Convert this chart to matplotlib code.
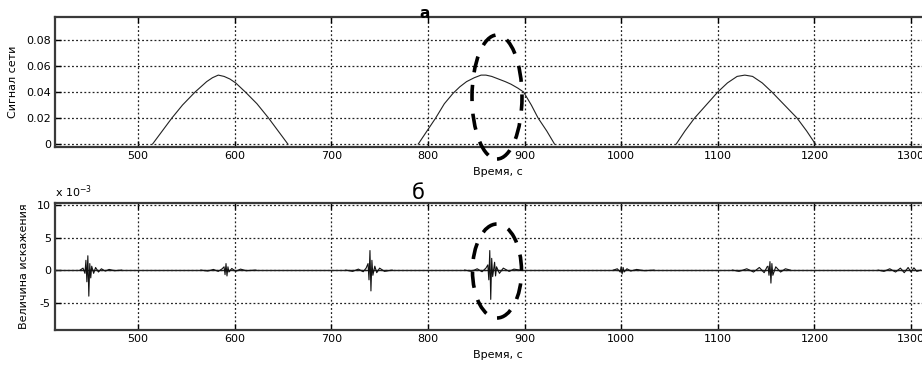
import matplotlib
matplotlib.use("Agg")
import matplotlib.pyplot as plt
from matplotlib.patches import Ellipse

plt.rcParams['font.family'] = ['Liberation Sans Narrow', 'DejaVu Sans']

# top panel: mains signal, three humps
hump1_t = [515, 525, 535, 546, 559, 571, 577, 583, 589, 595, 601, 611, 623, 635, 645, 655]
hump1_v = [0, 0.010, 0.020, 0.030, 0.040, 0.048, 0.051, 0.053, 0.052, 0.050, 0.047, 0.040, 0.031, 0.020, 0.010, 0]
hump2_t = [790, 799, 808, 817, 826, 833, 840, 848, 855, 860, 866, 873, 880, 886, 893, 899, 907, 914, 923, 931]
hump2_v = [0, 0.010, 0.020, 0.031, 0.039, 0.044, 0.048, 0.051, 0.053, 0.053, 0.052, 0.050, 0.048, 0.046, 0.043, 0.040, 0.030, 0.020, 0.010, 0]
hump3_t = [1057, 1066, 1076, 1088, 1100, 1110, 1120, 1128, 1136, 1146, 1156, 1169, 1182, 1192, 1201]
hump3_v = [0, 0.010, 0.020, 0.030, 0.040, 0.047, 0.052, 0.053, 0.052, 0.047, 0.040, 0.030, 0.020, 0.010, 0]

# bottom panel: distortion bursts, values in units of 1e-3
burst1_t = [440, 443, 445, 446, 447, 448, 449, 450, 451, 452, 454, 456, 459, 462, 466, 470, 476, 483]
burst1_v = [0, 0.3, -0.5, 1.5, -1.8, 2.2, -4.0, 1.0, -1.2, 0.6, -0.5, 0.4, -0.3, 0.2, -0.15, 0.1, -0.1, 0]
burst2_t = [565, 572, 578, 583, 587, 589, 590, 591, 592, 593, 594, 597, 601, 606, 612, 622]
burst2_v = [0, -0.15, 0.1, -0.2, 0.2, 0.5, -0.7, 1.0, -0.9, 0.5, -0.3, 0.25, -0.2, 0.15, -0.1, 0]
burst3_t = [715, 722, 728, 733, 736, 738, 739, 740, 741, 742, 743, 745, 747, 750, 755, 763]
burst3_v = [0, -0.2, 0.15, -0.25, 0.3, 1.0, -1.5, 3.0, -3.2, 1.5, -0.8, 0.6, -0.4, 0.3, -0.2, 0]
burst4_t = [838, 845, 851, 856, 860, 862, 863, 864, 865, 866, 867, 869, 870, 871, 874, 878, 884, 889, 895]
burst4_v = [0, -0.2, 0.2, -0.25, 0.3, 0.8, -1.5, 3.0, -4.5, 1.8, -1.0, 1.2, -0.9, 0.5, -0.5, 0.3, -0.2, 0.15, 0]
burst5_t = [992, 996, 999, 1000, 1001, 1002, 1003, 1006, 1010, 1016, 1024, 1034]
burst5_v = [0, 0.2, -0.3, 0.5, -0.6, 0.4, -0.3, 0.2, -0.15, 0.1, -0.1, 0]
burst6_t = [1115, 1122, 1130, 1137, 1143, 1148, 1151, 1152, 1153, 1154, 1155, 1156, 1157, 1160, 1165, 1170, 1175]
burst6_v = [0, -0.2, 0.2, -0.3, 0.4, -0.4, 0.5, 0.6, -0.8, 1.3, -2.0, 1.0, -0.8, 0.5, -0.3, 0.2, 0]
burst7_t = [1266, 1272, 1278, 1284, 1289, 1293, 1297, 1300, 1303, 1306, 1310]
burst7_v = [0, -0.2, 0.2, -0.3, 0.3, -0.4, 0.4, -0.3, 0.35, -0.2, 0]

x_ticks = [500, 600, 700, 800, 900, 1000, 1100, 1200, 1300]
top_yticks = [0, 0.02, 0.04, 0.06, 0.08]
top_ylabels = ['0', '0.02', '0.04', '0.06', '0.08']
bot_yticks = [-5, 0, 5, 10]
bot_ylabels = ['-5', '0', '5', '10']

W, H = 922, 372
fig = plt.figure(figsize=(W / 100, H / 100), dpi=100)


def px_axes(left, top, right, bottom):
    return fig.add_axes([left / W, 1 - bottom / H, (right - left) / W, (bottom - top) / H])


def style(ax):
    for s in ax.spines.values():
        s.set_linewidth(1.6)
        s.set_color('#3a3a3a')
    ax.tick_params(direction='in', length=4, width=1, labelsize=8, top=True, right=True, pad=3)
    ax.grid(True, color='#222222', linestyle=(0, (1.5, 1.8)), linewidth=0.9)
    ax.set_xlim(414, 1330)
    ax.set_xticks(x_ticks)
    ax.set_xticklabels([str(v) for v in x_ticks])


# top axes
ax1 = px_axes(55, 17, 940, 147)
style(ax1)
ax1.set_ylim(-0.0023, 0.0977)
ax1.set_yticks(top_yticks)
ax1.set_yticklabels(top_ylabels)
for t, v in [(hump1_t, hump1_v), (hump2_t, hump2_v), (hump3_t, hump3_v)]:
    ax1.plot(t, v, color='#222222', linewidth=0.8)
ax1.set_xlabel('Время, с', fontsize=8, labelpad=4)
ax1.set_ylabel('Сигнал сети', fontsize=8, labelpad=6)

# bottom axes
ax2 = px_axes(55, 203, 940, 330)
style(ax2)
ax2.set_ylim(-9.2, 10.3)
ax2.set_yticks(bot_yticks)
ax2.set_yticklabels(bot_ylabels)
ax2.axhline(0, color='#222222', linewidth=1.0, zorder=2)
for t, v in [(burst1_t, burst1_v), (burst2_t, burst2_v), (burst3_t, burst3_v),
             (burst4_t, burst4_v), (burst5_t, burst5_v), (burst6_t, burst6_v),
             (burst7_t, burst7_v)]:
    ax2.plot(t, v, color='#111111', linewidth=0.8, zorder=3)
ax2.set_xlabel('Время, с', fontsize=8, labelpad=4)
ax2.set_ylabel('Величина искажения', fontsize=8, labelpad=6)
ax2.text(0.0, 1.02, r'x 10$^{-3}$', transform=ax2.transAxes, fontsize=8, ha='left', va='bottom')

# panel marks
fig.text(425 / W, 1 - 13 / H, 'а', fontsize=11, fontweight='bold', ha='center', va='center')
fig.text(418 / W, 1 - 193 / H, 'б', fontsize=15, ha='center', va='center')

# dashed ellipses marking the region of interest
for cx, cy, w, h in [(497, 97, 50, 124), (497, 271, 49, 94)]:
    fig.add_artist(Ellipse((cx / W, 1 - cy / H), w / W, h / H, transform=fig.transFigure,
                           fill=False, edgecolor='black', linewidth=2.6,
                           linestyle=(0, (4.5, 3.5))))

fig.savefig('out.png', dpi=100)
